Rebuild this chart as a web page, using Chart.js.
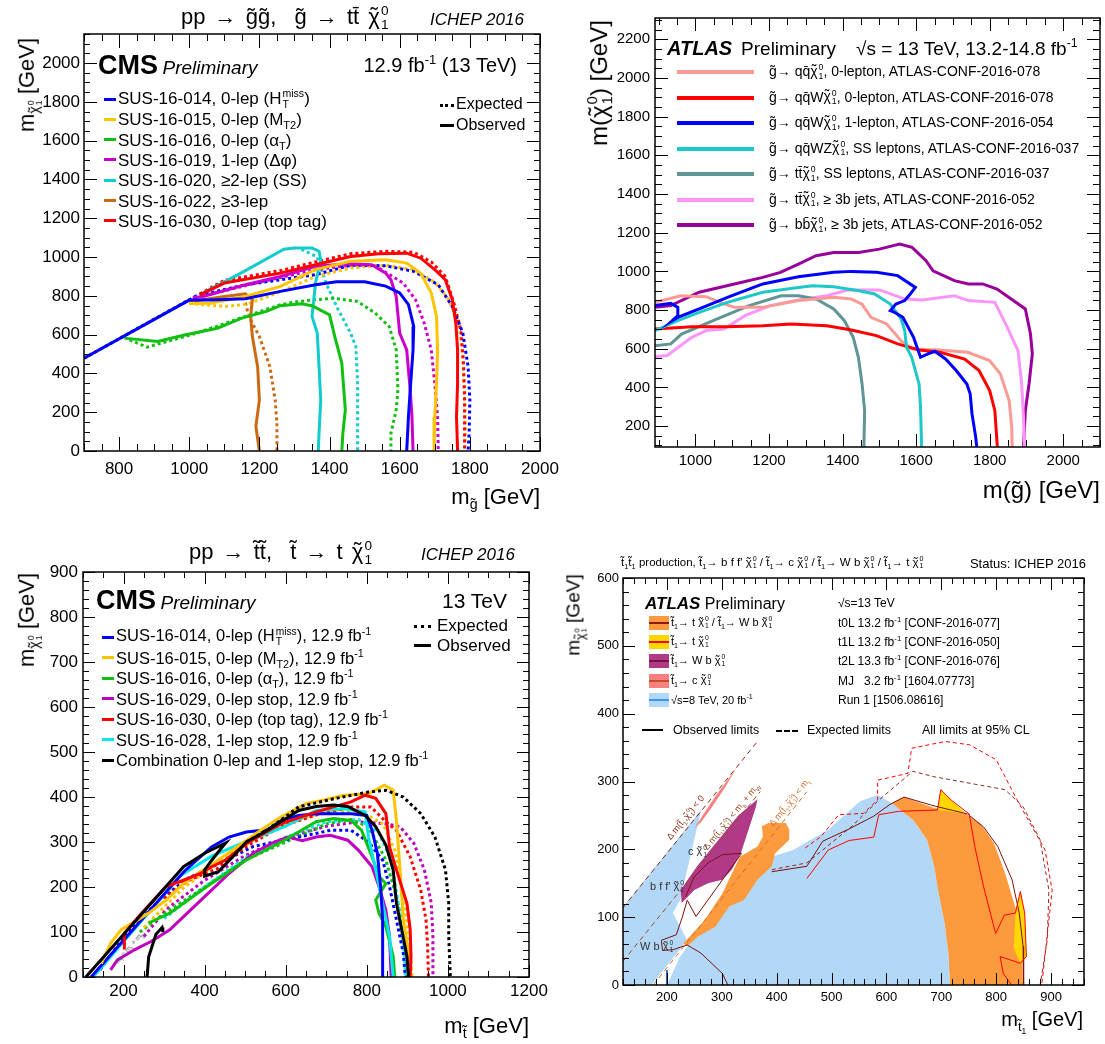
<!DOCTYPE html>
<html>
<head>
<meta charset="utf-8">
<script src="https://cdn.jsdelivr.net/npm/chart.js@4.4.0/dist/chart.umd.min.js"></script>
<style>
  body { margin: 0; background: #fff; }
  #page { position: relative; width: 1105px; height: 1044px; overflow: hidden;
          font-family: 'Liberation Sans', Arial, Helvetica, sans-serif; }
  canvas { position: absolute; }
  .t { position: absolute; white-space: nowrap; line-height: 1; color: #000; transform: translateY(-50%); }
  .t sub, .t sup { font-size: 0.65em; line-height: 0; }
  .ss { display: inline-block; vertical-align: -0.35em; font-size: 0.62em; line-height: 1; text-align: left; margin-left: 1px; }
  .ss > span { display: block; }
  .chi { position: relative; display: inline-block; }
  .chi::before { content: '\02DC'; position: absolute; left: 0.1em; top: -0.05em; }
  .sw { position: absolute; }
</style>
</head>
<body>
<div id="page">
  <canvas id="c1" width="580" height="520" style="left:0;top:0"></canvas>
  <canvas id="c2" width="553" height="520" style="left:552px;top:0"></canvas>
  <canvas id="c3" width="560" height="514" style="left:0;top:530px"></canvas>
  <canvas id="c4" width="553" height="514" style="left:552px;top:530px"></canvas>
</div>
<script>
// ---- Panel 1: CMS gluino -> t tbar chi (m_gluino, m_chi) ----
const p1XTicks = [800, 1000, 1200, 1400, 1600, 1800, 2000];
const p1YTicks = [0, 200, 400, 600, 800, 1000, 1200, 1400, 1600, 1800, 2000];
const p1BlueObs = [[700,478],[1000,778],[1060,778],[1160,785],[1260,823],[1360,857],[1420,872],[1500,873],[1560,850],[1600,815],[1625,755],[1640,642],[1638,520],[1630,315],[1625,177],[1620,0]];
const p1BlueExp = [[700,478],[1020,800],[1160,857],[1360,909],[1460,958],[1560,955],[1640,926],[1710,857],[1750,745],[1780,608],[1795,435],[1800,263],[1798,91],[1795,0]];
const p1RedObs = [[1030,805],[1100,866],[1260,917],[1360,960],[1460,1003],[1540,1017],[1620,1020],[1660,994],[1700,935],[1730,883],[1750,780],[1760,659],[1765,521],[1765,349],[1762,177],[1765,0]];
const p1RedExp = [[1030,810],[1100,880],[1260,930],[1360,975],[1460,1017],[1560,1030],[1640,1025],[1690,975],[1730,900],[1755,760],[1775,620],[1782,450],[1785,263],[1785,0]];
const p1YelObs = [[1000,760],[1060,762],[1160,797],[1260,849],[1360,935],[1460,978],[1560,986],[1620,969],[1660,917],[1690,814],[1705,694],[1708,521],[1705,349],[1700,177],[1698,0]];
const p1YelExp = [[1000,760],[1100,745],[1160,755],[1260,820],[1360,900],[1460,943],[1560,958],[1640,935],[1700,870],[1740,780],[1770,640],[1780,480],[1785,300],[1787,100],[1785,0]];
const p1MagObs = [[1010,790],[1040,797],[1160,857],[1260,900],[1360,952],[1460,965],[1520,960],[1560,917],[1575,883],[1590,797],[1600,608],[1620,521],[1630,315],[1635,177],[1638,0]];
const p1MagExp = [[1040,800],[1200,870],[1360,935],[1460,958],[1530,955],[1610,866],[1645,780],[1670,659],[1690,521],[1700,349],[1708,177],[1710,0]];
const p1GreenObs = [[815,582],[910,565],[990,599],[1080,633],[1150,685],[1220,720],[1260,749],[1320,759],[1350,749],[1400,702],[1415,590],[1435,453],[1445,212],[1438,91],[1435,0]];
const p1GreenExp = [[830,573],[880,535],[920,556],[1020,607],[1160,694],[1260,754],[1310,771],[1410,788],[1480,771],[1530,711],[1570,642],[1590,521],[1595,315],[1590,212],[1575,91],[1575,0]];
const p1CyanObs = [[1040,815],[1150,920],[1270,1040],[1300,1046],[1350,1046],[1370,1030],[1375,985],[1360,866],[1350,694],[1365,608],[1370,435],[1375,263],[1370,91],[1368,0]];
const p1CyanExp = [[1320,1040],[1365,1000],[1390,866],[1420,745],[1460,608],[1475,539],[1480,349],[1480,177],[1480,0]];
const p1OrgObs = [[1000,770],[1100,797],[1160,811],[1180,780],[1175,694],[1180,590],[1195,435],[1200,263],[1190,126],[1200,0]];
const p1OrgExp = [[1160,765],[1170,694],[1200,590],[1230,435],[1245,263],[1250,143],[1250,0]];

// ---- Panel 2: ATLAS gluino summary ----
const p2XTicks = [1000, 1200, 1400, 1600, 1800, 2000];
const p2YTicks = [200, 400, 600, 800, 1000, 1200, 1400, 1600, 1800, 2000, 2200];
const p2Salmon = [[890,840],[960,874],[1029,869],[1067,840],[1106,814],[1183,814],[1280,849],[1376,866],[1424,857],[1453,831],[1477,762],[1520,728],[1559,642],[1588,599],[1665,594],[1740,582],[1800,539],[1829,470],[1853,332],[1860,195],[1861,90]];
const p2Red = [[890,702],[990,714],[1087,714],[1183,719],[1260,728],[1357,719],[1424,697],[1492,668],[1550,625],[1608,594],[1665,582],[1732,547],[1771,487],[1800,384],[1814,281],[1821,90]];
const p2Blue = [[890,823],[933,835],[952,814],[952,771],[937,745],[952,762],[1010,806],[1087,866],[1183,935],[1280,972],[1376,995],[1424,1000],[1492,995],[1550,978],[1598,917],[1584,883],[1569,849],[1545,831],[1530,797],[1540,790],[1564,762],[1593,659],[1612,556],[1632,573],[1651,587],[1680,547],[1709,487],[1738,418],[1747,367],[1752,263],[1762,143],[1765,90]];
const p2Cyan = [[890,694],[952,745],[1010,788],[1087,840],[1183,892],[1280,917],[1318,926],[1376,921],[1444,900],[1487,883],[1530,831],[1559,754],[1569,694],[1574,608],[1588,556],[1608,418],[1612,298],[1615,90]];
const p2Teal = [[890,616],[933,625],[962,676],[1069,762],[1146,823],[1233,874],[1280,874],[1328,857],[1376,806],[1405,745],[1429,659],[1443,556],[1453,418],[1460,281],[1458,90]];
const p2Pink = [[890,559],[923,565],[990,659],[1029,694],[1077,702],[1135,771],[1203,823],[1280,852],[1357,874],[1414,904],[1501,904],[1569,857],[1617,852],[1704,874],[1742,849],[1814,840],[1848,711],[1877,590],[1887,418],[1892,246],[1895,90]];
const p2Purple = [[890,814],[933,823],[1010,892],[1106,935],[1183,969],[1231,995],[1280,1038],[1328,1081],[1376,1098],[1444,1098],[1500,1115],[1555,1141],[1589,1124],[1627,1055],[1646,1003],[1704,952],[1742,935],[1781,935],[1820,909],[1897,806],[1911,676],[1916,573],[1907,418],[1897,281],[1892,90]];

// ---- Panel 3: CMS stop -> t chi ----
const p3XTicks = [200, 400, 600, 800, 1000, 1200];
const p3YTicks = [0, 100, 200, 300, 400, 500, 600, 700, 800, 900];
const p3BlkObs = [[107,0],[348,245],[400,275],[452,298],[440,285],[417,259],[400,238],[400,224],[434,234],[469,267],[503,300],[555,326],[632,370],[675,379],[718,382],[753,379],[796,359],[822,334],[847,293],[865,238],[873,164],[886,105],[899,46],[903,0]];
const p3BlkIsland = [[258,0],[262,45],[280,95],[295,110],[297,100]];
const p3BlkExp = [[503,300],[560,330],[632,378],[718,396],[804,411],[847,415],[890,400],[933,363],[968,311],[994,238],[1002,164],[1002,90],[1006,0]];
const p3YelObs = [[145,30],[168,75],[194,105],[228,123],[262,142],[305,171],[348,208],[383,230],[434,260],[486,293],[538,326],[589,356],[650,385],[692,393],[744,404],[804,407],[843,426],[865,415],[873,348],[882,238],[890,127],[903,53],[907,0]];
const p3YelExp = [[250,110],[350,200],[450,265],[550,320],[650,355],[720,370],[790,365],[840,340],[870,280],[890,180],[905,80],[912,0]];
const p3RedObs = [[202,61],[202,97],[245,142],[305,201],[348,215],[390,230],[417,245],[452,260],[503,297],[589,341],[675,367],[761,389],[796,404],[822,397],[847,363],[856,289],[873,238],[899,164],[907,105],[909,46],[907,0]];
const p3RedExp = [[300,175],[360,215],[430,240],[503,290],[589,335],[675,360],[761,378],[810,378],[847,345],[873,326],[907,267],[933,193],[946,127],[950,68],[952,0]];
const p3MagObs = [[168,16],[185,38],[228,61],[270,80],[314,105],[348,134],[417,193],[460,230],[520,275],[572,300],[606,311],[641,303],[675,311],[710,315],[753,304],[779,282],[813,245],[830,201],[847,149],[856,90],[860,0]];
const p3MagExp = [[250,90],[305,150],[400,215],[500,270],[600,310],[700,335],[780,345],[850,340],[882,334],[916,297],[942,238],[959,164],[963,90],[963,0]];
const p3BlueObs = [[120,0],[350,235],[417,289],[460,311],[503,322],[555,327],[589,348],[632,359],[675,363],[761,363],[800,359],[813,326],[826,275],[834,201],[839,127],[839,0]];
const p3BlueExp = [[142,16],[202,90],[288,171],[360,220],[430,250],[520,290],[600,305],[680,320],[710,326],[761,326],[804,300],[839,260],[856,201],[873,127],[890,53],[895,0]];
const p3GreenObs = [[262,120],[314,142],[348,164],[417,208],[503,260],[589,300],[675,345],[718,352],[761,348],[787,326],[813,267],[830,223],[847,208],[822,171],[830,142],[847,112],[865,46],[869,0]];
const p3GreenExp = [[240,100],[300,140],[400,200],[500,260],[600,300],[700,340],[761,350],[804,334],[847,260],[873,179],[890,105],[899,38],[899,0]];
const p3CyanObs = [[125,0],[340,225],[420,270],[500,300],[600,335],[675,370],[744,374],[796,367],[804,311],[822,238],[839,164],[856,90],[865,0]];
const p3CyanExp = [[300,130],[400,200],[500,265],[600,310],[700,345],[780,350],[830,320],[860,260],[880,150],[893,50],[895,0]];

// ---- Panel 4: ATLAS stop summary ----
const p4XTicks = [200, 300, 400, 500, 600, 700, 800, 900];
const p4YTicks = [0, 100, 200, 300, 400, 500, 600];
const p4Run1Band = [[120,0],[172,0],[237,66],[211,106],[224,125],[262,256],[262,258],[120,115]];
const p4Run1Main = [[200,0],[716,0],[713,47],[706,91],[693,145],[687,175],[674,214],[649,243],[610,268],[584,280],[552,271],[494,229],[430,199],[391,189],[370,170],[330,150],[300,120],[270,95],[250,70],[224,42]];
const p4Orange = [[610,268],[632,277],[687,261],[745,252],[771,238],[796,209],[816,165],[829,130],[842,96],[847,57],[849,0],[716,0],[713,47],[706,91],[693,145],[687,175],[674,214],[649,243]];
const p4Stripe = [[230,61],[269,96],[301,135],[333,189],[365,204],[375,219],[373,234],[385,239],[417,239],[423,229],[423,214],[397,194],[391,175],[365,155],[340,125],[314,116],[288,86],[256,71],[237,57]];
const p4Purple = [[227,121],[225,140],[255,175],[290,210],[330,250],[365,274],[362,262],[335,195],[318,170],[301,155],[275,150],[250,140]];
const p4Salmon = [[250,231],[265,250],[290,280],[327,320],[305,290],[280,260],[262,240]];
const p4YelTop = [[693,258],[699,288],[719,272],[745,253]];
const p4YelRight = [[835,106],[844,138],[852,106],[855,42],[844,32],[832,54]];
const p4T0LObs = [[391,167],[455,175],[484,212],[532,230],[577,249],[606,266],[632,277],[687,264],[748,252],[777,233],[803,204],[829,155],[842,106],[849,57],[850,0]];
const p4T0LExp = [[391,170],[455,180],[537,234],[584,271],[648,315],[687,307],[816,288],[849,263],[880,214],[896,140],[893,66],[880,0]];
const p4T1LObs = [[455,157],[494,199],[532,213],[577,218],[586,251],[622,256],[693,258],[699,288],[719,272],[751,252],[761,204],[777,145],[799,76],[815,103],[835,106],[844,138],[852,106],[855,42],[844,32],[807,42],[813,17],[828,0]];
const p4T1LExp = [[452,202],[481,219],[513,251],[558,253],[584,273],[584,302],[639,312],[646,349],[707,359],[752,354],[800,332],[838,273],[889,199],[902,140],[892,66],[883,0]];
const p4T2LObs = [[311,0],[301,17],[262,47],[237,59],[211,52],[192,51],[190,66],[217,74],[228,100],[237,125],[253,101],[336,194],[301,192],[275,180],[250,160],[234,130]];
const p4DiagZero = [[120,114],[366,360]];
const p4DiagW = [[120,35],[370,285]];
const p4DiagT = [[175,0],[455,285]];
const p4Run1Tick = [[200,0],[200,22]];

const FONT = "'Liberation Sans', Arial, Helvetica, sans-serif";

function pts(a) { return a.map(p => ({ x: p[0], y: p[1] })); }
function line(data, color, width, dash) {
  return { data: pts(data), showLine: true, borderColor: color, borderWidth: width,
           borderDash: dash || [], pointRadius: 0, fill: false, tension: 0 };
}
function area(data, color) {
  return { data: pts(data), showLine: true, borderColor: 'rgba(0,0,0,0)', borderWidth: 1,
           backgroundColor: color, fill: 'shape', pointRadius: 0, tension: 0 };
}

// ROOT-like frame with inward ticks on all four sides
const frame = {
  id: 'frame',
  afterDraw(chart, args, o) {
    const { ctx, chartArea: a, scales: { x, y } } = chart;
    ctx.save();
    ctx.strokeStyle = '#000';
    ctx.lineWidth = o.width;
    ctx.strokeRect(a.left, a.top, a.right - a.left, a.bottom - a.top);
    const mark = (scale, step, len) => {
      for (let v = Math.ceil(scale.min / step - 1e-9) * step; v <= scale.max + 1e-6; v += step) {
        const p = Math.round(scale.getPixelForValue(v)) + 0.5;
        ctx.beginPath();
        if (scale.axis === 'x') {
          ctx.moveTo(p, a.bottom); ctx.lineTo(p, a.bottom - len);
          ctx.moveTo(p, a.top); ctx.lineTo(p, a.top + len);
        } else {
          ctx.moveTo(a.left, p); ctx.lineTo(a.left + len, p);
          ctx.moveTo(a.right, p); ctx.lineTo(a.right - len, p);
        }
        ctx.stroke();
      }
    };
    ctx.lineWidth = 1;
    mark(x, o.xMinor, o.xMinLen); mark(x, o.xMajor, o.xMajLen);
    mark(y, o.yMinor, o.yMinLen); mark(y, o.yMajor, o.yMajLen);
    ctx.restore();
  }
};

function makeChart(id, g, datasets) {
  new Chart(document.getElementById(id), {
    type: 'scatter',
    data: { datasets: datasets },
    options: {
      responsive: false,
      animation: false,
      devicePixelRatio: 1,
      layout: { padding: { top: g.top, right: g.right, left: 0, bottom: 0 } },
      plugins: { legend: { display: false }, tooltip: { enabled: false }, frame: g.frame },
      scales: {
        x: {
          type: 'linear', min: g.xMin, max: g.xMax,
          afterBuildTicks: s => { s.ticks = g.xTicks.map(v => ({ value: v })); },
          afterFit: s => { s.height = g.xH; },
          grid: { display: false, drawTicks: false }, border: { display: false },
          ticks: { font: { family: FONT, size: g.fs }, color: '#000', padding: g.xPad,
                   maxRotation: 0, autoSkip: false, callback: v => String(v) }
        },
        y: {
          type: 'linear', min: g.yMin, max: g.yMax,
          afterBuildTicks: s => { s.ticks = g.yTicks.map(v => ({ value: v })); },
          afterFit: s => { s.width = g.yW; },
          grid: { display: false, drawTicks: false }, border: { display: false },
          ticks: { font: { family: FONT, size: g.fs }, color: '#000', padding: g.yPad,
                   autoSkip: false, callback: v => String(v) }
        }
      }
    },
    plugins: [frame]
  });
}

const DOT = [3, 3];
const W = 3;

makeChart('c1', { top: 34, right: 40, xH: 69, yW: 84, xMin: 700, xMax: 2000, yMin: 0, yMax: 2150,
  xTicks: p1XTicks, yTicks: p1YTicks, fs: 17, xPad: 8, yPad: 4,
  frame: { width: 1.5, xMajor: 200, xMinor: 50, yMajor: 200, yMinor: 50, xMajLen: 14, xMinLen: 7, yMajLen: 13, yMinLen: 6 } }, [
  line(p1RedObs, '#ff0000', W), line(p1BlueObs, '#0000ff', W), line(p1YelObs, '#ffc400', W),
  line(p1MagObs, '#cc00cc', W), line(p1GreenObs, '#10c010', W), line(p1CyanObs, '#10cccc', W),
  line(p1OrgObs, '#cc6a14', W),
  line(p1BlueExp, '#0000ff', W, DOT), line(p1RedExp, '#ff0000', W, DOT), line(p1YelExp, '#ffc400', W, DOT),
  line(p1MagExp, '#cc00cc', W, DOT), line(p1GreenExp, '#10c010', W, DOT), line(p1CyanExp, '#10cccc', W, DOT),
  line(p1OrgExp, '#cc6a14', W, DOT)
]);

makeChart('c2', { top: 18, right: 5, xH: 73, yW: 103, xMin: 890, xMax: 2100, yMin: 92, yMax: 2310,
  xTicks: p2XTicks, yTicks: p2YTicks, fs: 15, xPad: 5, yPad: 5,
  frame: { width: 1.5, xMajor: 200, xMinor: 50, yMajor: 200, yMinor: 50, xMajLen: 13, xMinLen: 7, yMajLen: 13, yMinLen: 7 } }, [
  line(p2Blue, '#0000ff', W), line(p2Cyan, '#1fc8c8', W), line(p2Red, '#ff0000', W),
  line(p2Salmon, '#fa9a94', W), line(p2Teal, '#5f9595', W), line(p2Pink, '#fa96fa', W),
  line(p2Purple, '#990099', W)
]);

makeChart('c3', { top: 42, right: 31, xH: 67, yW: 83, xMin: 100, xMax: 1200, yMin: 0, yMax: 900,
  xTicks: p3XTicks, yTicks: p3YTicks, fs: 17, xPad: 4, yPad: 5,
  frame: { width: 1.5, xMajor: 200, xMinor: 50, yMajor: 100, yMinor: 20, xMajLen: 12, xMinLen: 6, yMajLen: 12, yMinLen: 6 } }, [
  line(p3BlkObs, '#000000', W), line(p3BlkIsland, '#000000', W), line(p3BlkExp, '#000000', W, DOT),
  line(p3RedObs, '#ff0000', W), line(p3YelObs, '#ffc400', W), line(p3BlueObs, '#0000ff', W),
  line(p3CyanObs, '#00e8e8', W), line(p3GreenObs, '#10c010', W), line(p3MagObs, '#c000c0', W),
  line(p3RedExp, '#ff0000', W, DOT), line(p3YelExp, '#ffc400', W, DOT), line(p3BlueExp, '#0000ff', W, DOT),
  line(p3CyanExp, '#00e8e8', W, DOT), line(p3GreenExp, '#10c010', W, DOT), line(p3MagExp, '#c000c0', W, DOT)
]);

makeChart('c4', { top: 48, right: 21, xH: 59, yW: 71, xMin: 120, xMax: 960, yMin: 0, yMax: 600,
  xTicks: p4XTicks, yTicks: p4YTicks, fs: 13, xPad: 5, yPad: 4,
  frame: { width: 1.5, xMajor: 100, xMinor: 20, yMajor: 100, yMinor: 20, xMajLen: 12, xMinLen: 6, yMajLen: 12, yMinLen: 6 } }, [
  line(p4T1LObs, '#ff0000', 1), line(p4T1LExp, '#ff0000', 1, [4, 3]),
  line(p4T0LObs, '#7a1010', 1), line(p4T0LExp, '#8b2a2a', 1, [4, 3]),
  line(p4T2LObs, '#7a1010', 1),
  line(p4DiagZero, '#8b2a10', 1, [5, 4]), line(p4DiagW, '#9b4a20', 1, [5, 4]), line(p4DiagT, '#d0702a', 1, [5, 4]),
  line(p4Run1Tick, '#1f6fd0', 2),
  area(p4YelTop, '#ffd700'), area(p4YelRight, '#ffd700'),
  area(p4Salmon, '#f88080'), area(p4Purple, '#b03a88'), area(p4Stripe, '#fd9a3d'),
  area(p4Orange, '#fd9a3d'), area(p4Run1Band, '#b3d7f7'), area(p4Run1Main, '#b3d7f7')
]);

// ---- text overlays ----
const page = document.getElementById('page');
function txt(x, y, html, css, anchor) {
  const d = document.createElement('div');
  d.className = 't';
  d.style.left = x + 'px';
  d.style.top = y + 'px';
  d.innerHTML = html;
  if (css) d.style.cssText += css;
  if (anchor === 'right') d.style.transform = 'translate(-100%,-50%)';
  else if (typeof anchor === 'number') d.style.transform = 'translate(-50%,-50%) rotate(' + anchor + 'deg)';
  page.appendChild(d);
  return d;
}
function sw(x, y, w, h, css) {
  const d = document.createElement('div');
  d.className = 'sw';
  d.style.cssText = 'left:' + x + 'px;top:' + (y - h / 2) + 'px;width:' + w + 'px;height:' + h + 'px;' + css;
  page.appendChild(d);
}

const G = 'g&#771;', T = 't&#771;', TB = 't&#772;', QB = 'q&#772;', BB = 'b&#772;';
const CHI = '<span class="chi">&chi;</span><span class="ss"><span>0</span><span>1</span></span>';
const T1 = T + '<sub>1</sub>';

// Panel 1
txt(181, 18, 'pp &rarr; ' + G + G + ',&nbsp; ' + G + ' &rarr; t' + TB + ' ' + CHI, 'font-size:22px;word-spacing:3px');
txt(430, 19, 'ICHEP 2016', 'font-size:17px;font-style:italic');
txt(98, 65, '<b style="font-size:27px">CMS</b> <i style="font-size:19px">Preliminary</i>', '');
txt(517, 65, '12.9 fb<sup>-1</sup> (13 TeV)', 'font-size:20px', 'right');
const p1Leg = [
  ['#0000ff', 'SUS-16-014, 0-lep (H<span class="ss"><span>miss</span><span>T</span></span>)'],
  ['#ffc400', 'SUS-16-015, 0-lep (M<sub>T2</sub>)'],
  ['#10c010', 'SUS-16-016, 0-lep (&alpha;<sub>T</sub>)'],
  ['#cc00cc', 'SUS-16-019, 1-lep (&Delta;&phi;)'],
  ['#10cccc', 'SUS-16-020, &ge;2-lep (SS)'],
  ['#cc6a14', 'SUS-16-022, &ge;3-lep'],
  ['#ff0000', 'SUS-16-030, 0-lep (top tag)']
];
p1Leg.forEach((r, i) => {
  const y = 99 + i * 20.3;
  sw(104, y, 12, 3, 'background:' + r[0]);
  txt(118, y, r[1], 'font-size:17px');
});
sw(440, 104, 14, 0, 'border-top:3px dotted #000');
txt(456, 104, 'Expected', 'font-size:16px');
sw(440, 125, 14, 3, 'background:#000');
txt(456, 125, 'Observed', 'font-size:16px');
txt(540, 497, 'm<sub>' + G + '</sub> [GeV]', 'font-size:22px', 'right');
txt(30, 85, 'm<sub>' + CHI + '</sub> [GeV]', 'font-size:22px', -90);

// Panel 2
txt(667, 48, '<b><i style="font-size:20px">ATLAS</i></b>&nbsp; <span style="font-size:19px">Preliminary</span>', '');
txt(856, 48, '&radic;s = 13 TeV, 13.2-14.8 fb<sup>-1</sup>', 'font-size:19px');
const p2Leg = [
  ['#fa9a94', G + '&rarr; q' + QB + CHI + ', 0-lepton, ATLAS-CONF-2016-078'],
  ['#ff0000', G + '&rarr; q' + QB + 'W' + CHI + ', 0-lepton, ATLAS-CONF-2016-078'],
  ['#0000ff', G + '&rarr; q' + QB + 'W' + CHI + ', 1-lepton, ATLAS-CONF-2016-054'],
  ['#1fc8c8', G + '&rarr; q' + QB + 'WZ' + CHI + ', SS leptons, ATLAS-CONF-2016-037'],
  ['#5f9595', G + '&rarr; t' + TB + CHI + ', SS leptons, ATLAS-CONF-2016-037'],
  ['#fa96fa', G + '&rarr; t' + TB + CHI + ', &ge; 3b jets, ATLAS-CONF-2016-052'],
  ['#990099', G + '&rarr; b' + BB + CHI + ', &ge; 3b jets, ATLAS-CONF-2016-052']
];
p2Leg.forEach((r, i) => {
  const y = 72 + i * 25.5;
  sw(677, y, 77, 4, 'background:' + r[0]);
  txt(769, y, r[1], 'font-size:14px');
});
txt(1100, 490, 'm(' + G + ') [GeV]', 'font-size:24px', 'right');
txt(600, 83, 'm(' + CHI + ') [GeV]', 'font-size:24px', -90);

// Panel 3
txt(189, 553, 'pp &rarr; ' + T + T + ',&nbsp; ' + T + ' &rarr; t ' + CHI, 'font-size:22px;word-spacing:3px');
txt(421, 554, 'ICHEP 2016', 'font-size:17px;font-style:italic');
txt(96, 600, '<b style="font-size:27px">CMS</b> <i style="font-size:19px">Preliminary</i>', '');
txt(507, 600, '13 TeV', 'font-size:21px', 'right');
sw(414, 625, 17, 0, 'border-top:3px dotted #000');
txt(437, 625, 'Expected', 'font-size:17px');
sw(414, 645, 17, 3, 'background:#000');
txt(437, 645, 'Observed', 'font-size:17px');
const p3Leg = [
  ['#0000ff', 'SUS-16-014, 0-lep (H<span class="ss"><span>miss</span><span>T</span></span>), 12.9 fb<sup>-1</sup>'],
  ['#ffc400', 'SUS-16-015, 0-lep (M<sub>T2</sub>), 12.9 fb<sup>-1</sup>'],
  ['#10c010', 'SUS-16-016, 0-lep (&alpha;<sub>T</sub>), 12.9 fb<sup>-1</sup>'],
  ['#c000c0', 'SUS-16-029, 0-lep stop, 12.9 fb<sup>-1</sup>'],
  ['#ff0000', 'SUS-16-030, 0-lep (top tag), 12.9 fb<sup>-1</sup>'],
  ['#00e8e8', 'SUS-16-028, 1-lep stop, 12.9 fb<sup>-1</sup>'],
  ['#000000', 'Combination 0-lep and 1-lep stop, 12.9 fb<sup>-1</sup>']
];
p3Leg.forEach((r, i) => {
  const y = 637 + i * 20.5;
  sw(102, y, 12, 3, 'background:' + r[0]);
  txt(116, y, r[1], 'font-size:16.5px');
});
txt(529, 1026, 'm<sub>' + T + '</sub> [GeV]', 'font-size:22px', 'right');
txt(30, 620, 'm<sub>' + CHI + '</sub> [GeV]', 'font-size:22px', -90);
txt(131, 948, 'm<sub>' + T + '</sub> = m<sub>t</sub> + m<sub>' + CHI + '</sub>', 'font-size:7px;color:#556', -49);

// Panel 4
txt(621, 563, T1 + T1 + ' production, ' + T1 + '&rarr; b f f\' ' + CHI + ' / ' + T1 + '&rarr; c ' + CHI +
  ' / ' + T1 + '&rarr; W b ' + CHI + ' / ' + T1 + '&rarr; t ' + CHI, 'font-size:11.5px');
txt(1086, 563, 'Status: ICHEP 2016', 'font-size:13px', 'right');
txt(645, 603, '<b><i style="font-size:17px">ATLAS</i></b> <span style="font-size:16px">Preliminary</span>', '');
txt(838, 603, '&radic;s=13 TeV', 'font-size:12px');
const p4Leg = [
  ['#fd9a3d', '#8b1a1a', T1 + '&rarr; t ' + CHI + ' / ' + T1 + '&rarr; W b ' + CHI, 't0L 13.2 fb<sup>-1</sup> [CONF-2016-077]'],
  ['#ffd700', '#ff0000', T1 + '&rarr; t ' + CHI, 't1L 13.2 fb<sup>-1</sup> [CONF-2016-050]'],
  ['#b03a88', '#7a1040', T1 + '&rarr; W b ' + CHI, 't2L 13.3 fb<sup>-1</sup> [CONF-2016-076]'],
  ['#f88080', '#c0502a', T1 + '&rarr; c ' + CHI, 'MJ &nbsp; 3.2 fb<sup>-1</sup> [1604.07773]'],
  ['#b3d7f7', '#3399ff', '&radic;s=8 TeV, 20 fb<sup>-1</sup>', 'Run 1 [1506.08616]']
];
p4Leg.forEach((r, i) => {
  const y = 623 + i * 19.2;
  sw(649, y, 20, 14, 'background:' + r[0]);
  sw(649, y, 20, 2, 'background:' + r[1]);
  txt(671, y, r[2], 'font-size:11px');
  txt(838, y, r[3], 'font-size:12px');
});
sw(642, 730, 21, 2, 'background:#000');
txt(673, 730, 'Observed limits', 'font-size:12.5px');
sw(776, 730, 22, 0, 'border-top:2px dashed #000');
txt(807, 730, 'Expected limits', 'font-size:12.5px');
txt(922, 730, 'All limits at 95% CL', 'font-size:12.5px');
txt(1083, 1020, 'm<sub>' + T1 + '</sub> [GeV]', 'font-size:20px', 'right');
txt(576, 615, 'm<sub>' + CHI + '</sub> [GeV]', 'font-size:19px', -90);
txt(686, 818, '&Delta; m(' + T1 + ',' + CHI + ') &lt; 0', 'font-size:9px;color:#8b2a10', -51);
txt(732, 817, '&Delta; m(' + T1 + ',' + CHI + ') &lt; m<sub>b</sub> + m<sub>W</sub>', 'font-size:9px;color:#9b4a20', -51);
txt(790, 803, '&Delta; m(' + T1 + ',' + CHI + ') &lt; m<sub>t</sub>', 'font-size:9px;color:#d0702a', -51);
txt(688, 852, 'c ' + CHI, 'font-size:11px;color:#333');
txt(650, 887, 'b f f\' ' + CHI, 'font-size:11px;color:#333');
txt(640, 947, 'W b ' + CHI, 'font-size:11px;color:#333');
</script>
</body>
</html>
